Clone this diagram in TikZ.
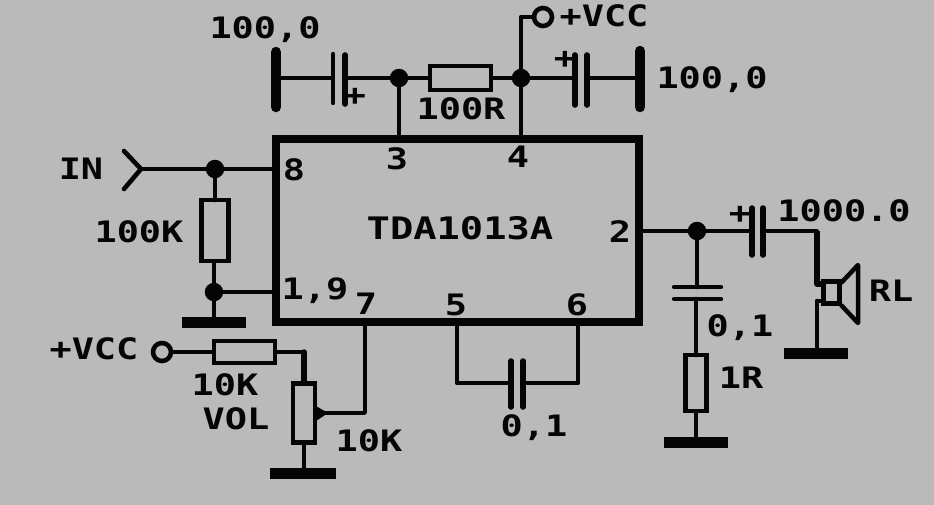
\documentclass[tikz,border=0pt]{standalone}
\usepackage{fontspec}
\newfontfamily\schem[FakeStretch=1.25]{DejaVu Sans Mono Bold}
\definecolor{paper}{HTML}{BABABA}
\definecolor{ink}{HTML}{050505}
\tikzset{
  wire/.style={draw=ink,line width=3.8pt,line cap=round,line join=round},
  wirep/.style={wire,line width=4.6pt},
  plate/.style={draw=ink,line width=4.4pt,line cap=round},
  plateb/.style={draw=ink,line width=5.6pt,line cap=round},
  bar/.style={draw=ink,line width=11pt},
  tbar/.style={draw=ink,line width=10.5pt,line cap=round},
  res/.style={draw=ink,line width=4.5pt,fill=paper,rectangle,inner sep=0pt,outer sep=0pt},
  dot/.style={circle,fill=ink,draw=none,minimum size=18.5pt,inner sep=0pt},
  term/.style={circle,draw=ink,line width=4.6pt,fill=paper,minimum size=18pt,inner sep=0pt,outer sep=0pt},
  lbl/.style={text=ink,inner sep=0pt,font=\schem\fontsize{29.5}{30}\selectfont},
  lblb/.style={lbl,font=\schem\fontsize{31}{31}\selectfont},
}
\begin{document}
\begin{tikzpicture}[x=1pt,y=-1pt]
\useasboundingbox (0,0) rectangle (934,504);
\fill[paper] (-3,-3) rectangle (937,507);
% IC
\node[draw=ink,line width=8.6pt,minimum width=363pt,minimum height=183pt,inner sep=0pt,outer sep=0pt] (ic) at (457.5,230.5) {};
\node[lblb] (name) at (460,228) {TDA1013A};
\node[lbl] (p3) at (397,159) {3};
\node[lbl] (p4) at (518,157) {4};
\node[lbl] (p8) at (294,170) {8};
\node[lbl] (p2) at (620,232) {2};
\node[lbl] (p19) at (315,291) {1,9};
\node[lbl] (p7) at (366,304) {7};
\node[lbl] (p5) at (456,305) {5};
\node[lbl] (p6) at (577,305) {6};
% IC pin points
\coordinate (pin3) at (399,139);
\coordinate (pin4) at (521,139);
\coordinate (pin8) at (276,169);
\coordinate (pin19) at (276,292);
\coordinate (pin7) at (365,322);
\coordinate (pin5) at (457,322);
\coordinate (pin6) at (578,322);
\coordinate (pin2) at (639,231);
% top row
\coordinate (gtl) at (276,78);
\draw[tbar] (276,52) -- (276,107);
\coordinate (c1a) at (333,78);
\coordinate (c1b) at (345,78);
\node[dot] (j3) at (399,78) {};
\node[res,minimum width=61pt,minimum height=24pt] (r100) at (460.5,78) {};
\node[dot] (j4) at (521,78) {};
\coordinate (c2a) at (575,78);
\coordinate (c2b) at (587,78);
\coordinate (gtr) at (640,78);
\draw[tbar] (640,51) -- (640,107);
\draw[wire] (gtl) -- (c1a);
\draw[plate] (333,54) -- (333,103);
\draw[plateb] (345,55) -- (345,104);
\draw[wire] (c1b) -- (j3);
\draw[wire] (j3) -- (r100);
\draw[wire] (r100) -- (j4);
\draw[wire] (j4) -- (c2a);
\draw[plateb] (575,55) -- (575,105);
\draw[plateb] (587,55) -- (587,105);
\draw[wire] (c2b) -- (gtr);
\draw[wirep] (j3) -- (pin3);
\draw[wirep] (j4) -- (pin4);
\node[term] (vcc1) at (543,17) {};
\draw[wirep] (j4) |- (vcc1);
\node[lbl] (t100a) at (265,30) {100,0};
\node[lbl] (t100b) at (712,80) {100,0};
\node[lbl] (t100r) at (461,109) {100R};
\node[lbl] (tvcc1) at (604,16) {+VCC};
\node[lbl] (tp1) at (355,97) {+};
\node[lbl] (tp2) at (565,60) {+};
% input
\node[lbl] (tin) at (81,169) {IN};
\coordinate (ina) at (124,151);
\coordinate (inb) at (124,189);
\coordinate (inc) at (141,169);
\draw[wirep] (ina) -- (inc) -- (inb);
\node[dot] (j8) at (215,169) {};
\draw[wirep] (inc) -- (j8);
\draw[wirep] (j8) -- (pin8);
\node[res,minimum width=27pt,minimum height=61pt] (r100k) at (215,230.5) {};
\node[dot] (j19) at (214,292) {};
\coordinate (g1) at (214,322);
\draw[wirep] (j8) -- (r100k);
\draw[wire] (r100k.south -| j19) -- (j19);
\draw[wire] (j19) -- (pin19);
\draw[wire] (j19) -- (g1);
\draw[bar] (182,322) -- (246,322);
\node[lbl] (t100k) at (139,232) {100K};
% volume
\node[lbl] (tvcc2) at (94,349) {+VCC};
\node[term] (vcc2) at (162,352) {};
\node[res,minimum width=61pt,minimum height=22pt] (r10k) at (244.5,352) {};
\node[res,minimum width=22pt,minimum height=59pt] (pot) at (304,413) {};
\coordinate (g2) at (304,473);
\coordinate (wip) at (365,413);
\draw[wire] (vcc2) -- (r10k);
\draw[wire] (r10k.east) -- (304,352);
\draw[wirep,line width=5.5pt] (304,352) -- (pot.north);
\draw[wire] (pot) -- (g2);
\draw[bar] (270,473) -- (336,473);
\draw[wire] (pin7) -- (wip) -- (pot.east);
\fill[ink] (316,406) -- (316,421) -- (328,413) -- cycle;
\node[lbl] (t10ka) at (225,385) {10K};
\node[lbl] (tvol) at (236,419) {VOL};
\node[lbl] (t10kb) at (369,441) {10K};
% bottom cap
\coordinate (b5) at (457,383);
\coordinate (b6) at (578,383);
\coordinate (c3a) at (511,383);
\coordinate (c3b) at (523,383);
\draw[wirep] (pin5) -- (b5) -- (c3a);
\draw[plateb] (511,361) -- (511,407);
\draw[plateb] (523,361) -- (523,407);
\draw[wirep] (c3b) -- (b6) -- (pin6);
\node[lbl] (t01a) at (534,428) {0,1};
% output
\node[dot] (j2) at (697,231) {};
\coordinate (c4a) at (752,231);
\coordinate (c4b) at (763,231);
\coordinate (ot) at (817,231);
\draw[wire] (pin2) -- (j2);
\draw[wire] (j2) -- (c4a);
\draw[plateb] (752,208) -- (752,255);
\draw[plateb] (763,208) -- (763,255);
\draw[wire] (c4b) -- (ot);
\node[lbl] (tp3) at (740,215) {+};
\node[lbl] (t1000) at (844,211) {1000.0};
% branch
\coordinate (c5a) at (697,287);
\coordinate (c5b) at (696,299);
\draw[wirep] (j2) -- (c5a);
\draw[plate] (674,287) -- (721,287);
\draw[plate] (674,299) -- (721,299);
\node[res,minimum width=21pt,minimum height=56pt] (r1) at (696,383) {};
\coordinate (g3) at (696,442);
\draw[wirep] (c5b) -- (r1);
\draw[wire] (r1) -- (g3);
\draw[bar] (664,442) -- (728,442);
\node[lbl] (t01b) at (740,328) {0,1};
\node[lbl] (t1r) at (741,378) {1R};
% speaker
\node[res,fill=none,minimum width=16pt,minimum height=22pt] (spk) at (831.5,292.5) {};
\coordinate (sp1) at (817,284);
\coordinate (sp2) at (817,301);
\coordinate (g4) at (817,353);
\draw[wirep,line width=5.5pt,line cap=butt] (ot) -- (sp1) -- (spk.west |- sp1);
\draw[wirep,line cap=butt] (sp2) -- (spk.west |- sp2);
\draw[wirep] (sp2) -- (g4);
\draw[draw=ink,line width=4.5pt,line join=round] (841,283) -- (858,265) -- (858,323) -- (841,305);
\draw[bar] (784,353) -- (848,353);
\node[lbl] (trl) at (891,291) {RL};
\end{tikzpicture}
\end{document}
